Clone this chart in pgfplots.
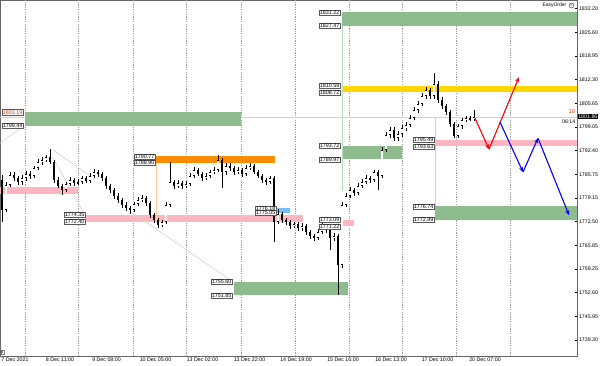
\documentclass[border=0pt]{standalone}
\usepackage{pgfplots}
\pgfplotsset{compat=1.18}
\usepackage{pgfplotstable}
\usepackage{fontspec}
\setmainfont{Liberation Sans}
\usetikzlibrary{arrows.meta}
\definecolor{zgreen}{RGB}{143,188,143}
\definecolor{zpink}{RGB}{255,182,193}
\definecolor{zorange}{RGB}{255,140,0}
\definecolor{zgold}{RGB}{255,215,0}
\definecolor{zblue}{RGB}{120,190,245}
\definecolor{lgreen}{RGB}{185,220,185}
\definecolor{lorange}{RGB}{255,200,150}
\definecolor{lblred}{RGB}{210,60,0}

\pgfplotstableread{
x o h l c
2 1784.17 1785.57 1772.39 1775.76
6 1775.76 1783.60 1775.20 1782.77
10 1782.77 1786.30 1782.20 1785.57
14 1785.57 1786.40 1783.90 1784.73
18 1784.73 1785.30 1782.70 1783.61
22 1783.61 1785.50 1782.90 1784.73
26 1784.73 1786.60 1784.00 1785.85
30 1785.85 1786.70 1784.50 1785.29
34 1785.29 1788.20 1784.80 1787.53
38 1787.53 1790.00 1786.90 1789.22
42 1789.22 1790.60 1788.40 1789.78
46 1789.78 1791.30 1789.10 1790.62
50 1790.62 1792.86 1788.60 1789.22
54 1789.22 1789.80 1783.40 1784.17
58 1784.17 1784.90 1781.80 1782.49
62 1782.49 1783.00 1779.96 1781.36
66 1781.36 1783.70 1780.80 1783.05
70 1783.05 1784.90 1782.50 1784.17
74 1784.17 1784.80 1782.60 1783.33
78 1783.33 1784.40 1782.70 1783.61
82 1783.61 1785.40 1783.00 1784.73
86 1784.73 1785.30 1783.20 1783.89
90 1783.89 1786.00 1783.30 1785.29
94 1785.29 1787.20 1784.70 1786.41
98 1786.41 1787.00 1785.10 1785.85
102 1785.85 1786.40 1784.00 1784.73
106 1784.73 1785.30 1781.70 1782.49
110 1782.49 1783.10 1780.60 1781.36
114 1781.36 1782.00 1778.80 1779.68
118 1779.68 1780.40 1777.70 1778.56
122 1778.56 1779.20 1776.30 1777.16
126 1777.16 1778.00 1775.50 1776.32
130 1776.32 1777.00 1774.63 1775.76
134 1775.76 1778.10 1775.10 1777.44
138 1777.44 1779.40 1776.80 1778.56
142 1778.56 1779.90 1777.90 1779.12
146 1779.12 1779.80 1777.00 1777.72
150 1777.72 1778.30 1773.60 1774.35
154 1774.35 1775.00 1772.10 1772.95
158 1772.95 1773.50 1770.71 1771.55
162 1771.55 1773.10 1770.90 1772.39
166 1772.39 1777.90 1771.80 1777.16
170 1777.16 1789.22 1776.60 1783.61
174 1783.61 1784.30 1781.60 1782.49
178 1782.49 1784.10 1781.90 1783.33
182 1783.33 1783.90 1781.70 1782.49
186 1782.49 1783.80 1781.90 1783.05
190 1783.05 1786.00 1782.50 1785.29
194 1785.29 1787.80 1784.80 1786.97
198 1786.97 1787.60 1785.20 1785.85
202 1785.85 1786.40 1784.00 1784.73
206 1784.73 1786.00 1784.10 1785.29
210 1785.29 1787.10 1784.70 1786.41
214 1786.41 1787.90 1785.80 1786.97
218 1786.97 1791.18 1786.30 1789.78
222 1789.78 1790.40 1781.92 1786.41
226 1786.41 1788.90 1785.70 1788.09
230 1788.09 1788.80 1786.80 1787.53
234 1787.53 1788.10 1785.70 1786.41
238 1786.41 1787.70 1785.80 1786.97
242 1786.97 1787.60 1785.10 1785.85
246 1785.85 1788.30 1785.20 1787.53
250 1787.53 1788.90 1786.90 1788.09
254 1788.09 1788.70 1785.80 1786.41
258 1786.41 1787.00 1784.60 1785.29
262 1785.29 1785.90 1783.40 1784.17
266 1784.17 1784.80 1782.80 1783.61
270 1783.61 1785.40 1783.00 1784.73
274 1784.73 1785.30 1766.78 1772.39
278 1772.39 1775.90 1771.80 1774.63
282 1774.63 1775.30 1772.20 1772.95
286 1772.95 1773.60 1771.60 1772.39
290 1772.39 1773.00 1770.50 1771.27
294 1771.27 1772.50 1770.60 1771.83
298 1771.83 1772.40 1769.90 1770.71
302 1770.71 1772.00 1770.00 1771.27
306 1771.27 1771.90 1768.80 1769.59
310 1769.59 1770.20 1767.70 1768.47
314 1768.47 1769.10 1767.10 1767.90
318 1767.90 1770.30 1767.30 1769.59
322 1769.59 1773.51 1769.00 1771.27
326 1771.27 1771.90 1769.40 1770.15
330 1770.15 1770.80 1764.54 1767.90
334 1767.90 1769.20 1767.10 1768.47
338 1768.47 1769.00 1751.92 1760.33
342 1760.33 1777.90 1759.60 1777.16
346 1777.16 1780.50 1776.50 1779.68
350 1779.68 1782.20 1779.00 1781.36
354 1781.36 1782.00 1779.80 1780.52
358 1780.52 1783.20 1779.90 1782.49
362 1782.49 1784.40 1781.90 1783.61
366 1783.61 1785.50 1783.00 1784.73
370 1784.73 1785.40 1783.40 1784.17
374 1784.17 1787.10 1783.60 1786.41
378 1786.41 1787.00 1781.36 1785.29
382 1785.29 1793.40 1784.60 1792.58
386 1792.58 1797.60 1791.90 1796.79
390 1796.79 1799.00 1796.00 1798.19
394 1798.19 1798.90 1795.20 1795.94
398 1795.94 1797.90 1795.20 1797.07
402 1797.07 1799.50 1796.30 1798.75
406 1798.75 1800.40 1798.00 1799.59
410 1799.59 1802.30 1798.90 1801.55
414 1801.55 1804.60 1800.90 1803.80
418 1803.80 1806.30 1803.10 1805.48
422 1805.48 1808.60 1804.80 1807.72
426 1807.72 1810.30 1807.00 1809.40
430 1809.40 1810.10 1806.90 1807.72
434 1807.72 1814.17 1807.00 1811.09
438 1811.09 1811.80 1805.90 1806.60
442 1806.60 1807.40 1804.10 1804.92
446 1804.92 1805.60 1802.40 1803.24
450 1803.24 1803.90 1799.10 1799.87
454 1799.87 1800.50 1795.94 1796.51
458 1796.51 1800.00 1795.90 1799.31
462 1799.31 1801.70 1798.60 1800.99
466 1800.99 1802.20 1800.30 1801.55
470 1801.55 1802.10 1800.60 1801.27
474 1801.27 1803.90 1800.70 1801.86
}\candles

\begin{document}
\begin{tikzpicture}
\useasboundingbox (0bp,-10bp) rectangle (600bp,356bp);
\begin{axis}[
  at={(0bp,0bp)}, anchor=south west,
  scale only axis, width=577bp, height=356bp,
  xmin=0, xmax=577, ymin=1734.82, ymax=1834.64,
  clip=false,
  axis line style={gray!80!black, line width=0.5bp},
  xtick={15,60,106.5,155.5,202.5,249.5,296,343,391,437.5,485},
  xticklabels={7 Dec 2021,8 Dec 11:00,9 Dec 08:00,10 Dec 05:00,13 Dec 02:00,13 Dec 22:00,14 Dec 19:00,15 Dec 16:00,16 Dec 13:00,17 Dec 10:00,20 Dec 07:00},
  xtick pos=bottom,
  x tick style={draw=none},
  xticklabel style={font=\fontsize{5.3}{6}\selectfont, yshift=1.5bp},
  extra x ticks={25,78,133,186,241,295,349,402,456,510},
  extra x tick labels={},
  extra x tick style={grid=major, major tick length=0pt},
  major grid style={gray!75, dash pattern=on 1.2bp off 1.2bp, line width=0.45bp},
  ytick={1739.30,1745.95,1752.60,1759.25,1765.85,1772.50,1779.15,1785.75,1792.40,1799.05,1805.65,1812.30,1818.95,1825.60,1832.20},
  yticklabels={1739.30,1745.95,1752.60,1759.25,1765.85,1772.50,1779.15,1785.75,1792.40,1799.05,1805.65,1812.30,1818.95,1825.60,1832.20},
  ytick pos=right, yticklabel pos=right,
  y tick style={black, line width=0.4bp},
  major tick length=2bp,
  yticklabel style={font=\fontsize{5.3}{6}\selectfont, xshift=-1.5bp},
  /pgf/number format/assume math mode=true,
]
% bid line
\addplot[gray!35, line width=0.6bp, forget plot] coordinates {(0,1801.86) (577,1801.86)};

% zones
\addplot[fill=zgreen, draw=none] coordinates {(25,1803.19) (241,1803.19) (241,1799.44) (25,1799.44)} -- cycle;
\addplot[fill=zorange, draw=none] coordinates {(156,1790.77) (275,1790.77) (275,1788.90) (156,1788.90)} -- cycle;
\addplot[fill=zpink, draw=none] coordinates {(0,1782.10) (78,1782.10) (78,1780.30) (0,1780.30)} -- cycle;
\addplot[fill=zpink, draw=none] coordinates {(85,1774.35) (303,1774.35) (303,1772.40) (85,1772.40)} -- cycle;
\addplot[fill=zpink, draw=none] coordinates {(342,1773.09) (354,1773.09) (354,1771.22) (342,1771.22)} -- cycle;
\addplot[fill=zblue, draw=none] coordinates {(277,1776.18) (290,1776.18) (290,1775.05) (277,1775.05)} -- cycle;
\addplot[fill=zgreen, draw=none] coordinates {(234,1755.60) (348,1755.60) (348,1751.85) (234,1751.85)} -- cycle;
\addplot[fill=zgreen, draw=none] coordinates {(342,1831.22) (577,1831.22) (577,1827.47) (342,1827.47)} -- cycle;
\addplot[fill=zgold, draw=none] coordinates {(342,1810.59) (577,1810.59) (577,1808.72) (342,1808.72)} -- cycle;
\addplot[fill=zgreen, draw=none] coordinates {(342,1793.72) (402,1793.72) (402,1789.97) (342,1789.97)} -- cycle;
\addplot[fill=zpink, draw=none] coordinates {(435,1795.49) (577,1795.49) (577,1793.63) (435,1793.63)} -- cycle;
\addplot[fill=zgreen, draw=none] coordinates {(435,1776.74) (577,1776.74) (577,1772.99) (435,1772.99)} -- cycle;

% faint helper lines
\addplot[lgreen, line width=0.5bp] coordinates {(0,1794.5) (24,1799.4)};
\addplot[lgreen, line width=0.5bp] coordinates {(53,1792.6) (92,1785.0)};
\addplot[zpink, line width=0.5bp] coordinates {(53,1790.3) (85,1774.35)};
\addplot[lgreen, line width=0.5bp] coordinates {(133,1774.9) (233,1755.6)};
\addplot[lorange, line width=0.6bp] coordinates {(156,1788.90) (156,1772.40)};
\addplot[lgreen, line width=0.5bp] coordinates {(342,1827.47) (342,1781.0)};
\addplot[lgreen, line width=0.5bp] coordinates {(435,1801.5) (435,1776.74)};

% candles: wicks
\addplot[draw=none, mark=none, error bars/.cd, y dir=both, y explicit, error mark=none,
  error bar style={draw=black, line width=0.55bp}]
  table[x=x, y expr={(\thisrow{h}+\thisrow{l})/2}, y error expr={(\thisrow{h}-\thisrow{l})/2}] {\candles};
% candles: bodies
\addplot[draw=none, mark=none, error bars/.cd, y dir=both, y explicit, error mark=none,
  error bar style={draw=black, line width=2.6bp}]
  table[x=x, y expr={(\thisrow{o}+\thisrow{c})/2}, y error expr={max(abs(\thisrow{c}-\thisrow{o})/2,0.12)}] {\candles};
% bullish bodies hollow
\addplot[draw=none, mark=none, error bars/.cd, y dir=both, y explicit, error mark=none,
  error bar style={draw=white, line width=1.3bp}]
  table[x=x, y expr={(\thisrow{o}+\thisrow{c})/2}, y error expr={\thisrow{c}>\thisrow{o} ? max((\thisrow{c}-\thisrow{o})/2-0.18,0) : 0}] {\candles};

% projection arrows
\addplot[red, line width=1.1bp, -{Stealth[length=5bp,width=4bp]}] coordinates {(475,1801.5) (489,1792.8)};
\addplot[red, line width=1.1bp, -{Stealth[length=5bp,width=4bp]}] coordinates {(489,1792.8) (519,1813.0)};
\addplot[blue, line width=1.1bp, -{Stealth[length=5bp,width=4bp]}] coordinates {(500,1800.4) (523,1786.4)};
\addplot[blue, line width=1.1bp, -{Stealth[length=5bp,width=4bp]}] coordinates {(523,1786.4) (538,1795.9)};
\addplot[blue, line width=1.1bp, -{Stealth[length=5bp,width=4bp]}] coordinates {(538,1795.9) (569,1774.3)};

% labels
\tikzset{lbl/.style={draw=gray!70!black, fill=white, line width=0.3bp, inner sep=0.6bp, font=\fontsize{5.4}{5.6}\selectfont, anchor=east}}
\node[lbl, text=lblred] at (axis cs:23,1803.19) {1803.19};
\node[lbl] at (axis cs:23,1799.44) {1799.44};
\node[lbl] at (axis cs:155,1790.77) {1790.77};
\node[lbl] at (axis cs:155,1788.90) {1788.90};
\node[lbl] at (axis cs:85,1774.35) {1774.35};
\node[lbl] at (axis cs:85,1772.40) {1772.40};
\node[lbl] at (axis cs:276,1776.18) {1776.18};
\node[lbl] at (axis cs:276,1775.05) {1775.05};
\node[lbl] at (axis cs:340,1773.09) {1773.09};
\node[lbl] at (axis cs:340,1771.22) {1771.22};
\node[lbl] at (axis cs:232,1755.60) {1755.60};
\node[lbl] at (axis cs:232,1751.85) {1751.85};
\node[lbl] at (axis cs:340,1831.22) {1831.22};
\node[lbl] at (axis cs:340,1827.47) {1827.47};
\node[lbl] at (axis cs:340,1810.59) {1810.59};
\node[lbl] at (axis cs:340,1808.72) {1808.72};
\node[lbl] at (axis cs:340,1793.72) {1793.72};
\node[lbl] at (axis cs:340,1789.97) {1789.97};
\node[lbl] at (axis cs:434,1795.49) {1795.49};
\node[lbl] at (axis cs:434,1793.63) {1793.63};
\node[lbl] at (axis cs:434,1776.74) {1776.74};
\node[lbl] at (axis cs:434,1772.99) {1772.99};

\node[fill=black, text=white, inner sep=0.6bp, anchor=west, font=\fontsize{5.3}{6}\selectfont] at (axis cs:577.5,1801.86) {1801.86};
\node[anchor=north east, inner sep=0.5bp, font=\fontsize{5.3}{6}\selectfont] at (axis cs:576,1801.3) {06:14};
\node[anchor=south east, inner sep=0.5bp, text=lblred!70!orange, font=\fontsize{6}{6}\selectfont] at (axis cs:576,1802.6) {10};
\node[anchor=east, inner sep=0.5bp, font=\fontsize{5}{5}\selectfont] at (axis cs:567,1833.1) {EasyOrder};
\node[circle, draw=black, line width=0.3bp, inner sep=0pt, minimum size=5bp, font=\fontsize{4}{4}\selectfont] at (axis cs:571.5,1833.1) {=};
\node[draw=gray, inner sep=0.3bp, font=\fontsize{3.5}{4}\selectfont, anchor=south west] at (axis cs:1,1735.4) {9};
\end{axis}
\end{tikzpicture}
\end{document}
